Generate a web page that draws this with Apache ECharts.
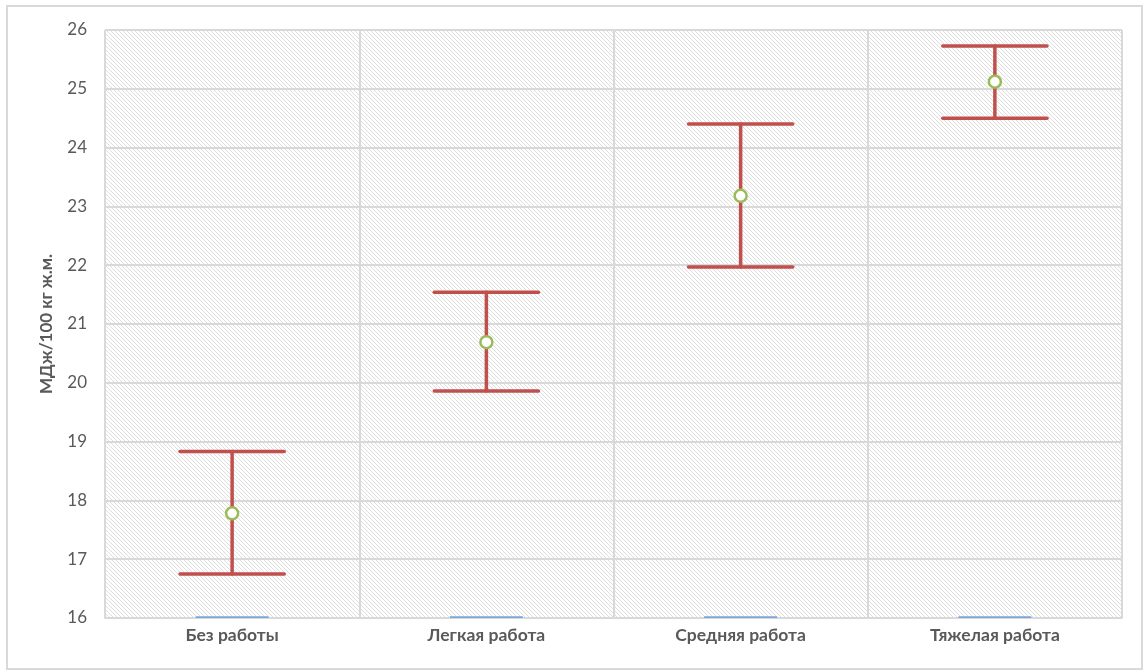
<!DOCTYPE html>
<html>
<head>
<meta charset="utf-8">
<script src="https://cdn.jsdelivr.net/npm/echarts@6/dist/echarts.min.js"></script>
<style>
    body { margin: 0; background: #fff; }
    #chart { width: 1145px; height: 672px; }
</style>
</head>
<body>
<div id="chart"></div>
<script>
var categories = ['Без работы', 'Легкая работа', 'Средняя работа', 'Тяжелая работа'];
var meanValues = [17.78, 20.69, 23.18, 25.12];
var lowValues = [16.75, 19.86, 21.97, 24.50];
var highValues = [18.83, 21.54, 24.40, 25.73];
var baseValues = [16.03, 16.03, 16.03, 16.03];
var yTicks = [16, 17, 18, 19, 20, 21, 22, 23, 24, 25, 26];

// diagonal hatch for the plot background
function makeHatch() {
    var c = document.createElement('canvas');
    c.width = 4;
    c.height = 4;
    var ctx = c.getContext('2d');
    ctx.fillStyle = '#ffffff';
    ctx.fillRect(0, 0, 4, 4);
    ctx.fillStyle = '#dedede';
    for (var i = 0; i < 4; i++) {
        ctx.fillRect(i, i, 1, 1);
    }
    return c;
}

function drawChart() {
    var chartDom = document.getElementById('chart');
    var myChart = echarts.init(chartDom);
    var errData = [];
    var key;
    for (key = 0; key < categories.length; key++) {
        errData.push([key, lowValues[key], highValues[key]]);
    }
    var option = {
        animation: false,
        graphic: [
            {
                type: 'rect',
                shape: { x: 7, y: 6, width: 1135, height: 663 },
                style: { fill: 'none', stroke: '#d9d9d9', lineWidth: 2 },
                silent: true
            }
        ],
        grid: {
            left: 105,
            right: 23,
            top: 30,
            bottom: 54,
            show: true,
            borderWidth: 0,
            backgroundColor: { image: makeHatch(), repeat: 'repeat' }
        },
        xAxis: {
            type: 'category',
            data: categories,
            boundaryGap: true,
            axisLine: { show: true, lineStyle: { color: '#d9d9d9', width: 2 } },
            axisTick: { show: false },
            splitLine: { show: true, lineStyle: { color: '#d9d9d9', width: 2 } },
            axisLabel: {
                color: '#595959',
                fontSize: 17.5,
                fontWeight: 'bold',
                fontFamily: 'Lato',
                margin: 8
            }
        },
        yAxis: {
            type: 'value',
            min: yTicks[0],
            max: yTicks[yTicks.length - 1],
            interval: 1,
            name: 'МДж/100 кг ж.м.',
            nameLocation: 'middle',
            nameGap: 50,
            nameTextStyle: {
                color: '#595959',
                fontSize: 17,
                fontWeight: 'bold',
                fontFamily: 'Lato'
            },
            axisLine: { show: false },
            axisTick: { show: false },
            splitLine: { show: true, lineStyle: { color: '#d9d9d9', width: 2 } },
            axisLabel: {
                color: '#595959',
                fontSize: 17,
                fontFamily: 'Lato',
                margin: 18
            }
        },
        series: [
            {
                name: 'base',
                type: 'bar',
                data: baseValues,
                barWidth: 73,
                itemStyle: { color: '#7aa6dc' },
                silent: true
            },
            {
                name: 'range',
                type: 'custom',
                data: errData,
                z: 3,
                renderItem: function(params, api) {
                    var lo = api.coord([api.value(0), api.value(1)]);
                    var hi = api.coord([api.value(0), api.value(2)]);
                    var half = api.size([1, 0])[0] * 0.205;
                    var style = { stroke: '#c0504d', lineWidth: 3.5, lineCap: 'round' };
                    return {
                        type: 'group',
                        children: [
                            { type: 'line', shape: { x1: lo[0], y1: lo[1], x2: hi[0], y2: hi[1] }, style: style },
                            { type: 'line', shape: { x1: lo[0] - half, y1: lo[1], x2: lo[0] + half, y2: lo[1] }, style: style },
                            { type: 'line', shape: { x1: hi[0] - half, y1: hi[1], x2: hi[0] + half, y2: hi[1] }, style: style }
                        ]
                    };
                }
            },
            {
                name: 'mean',
                type: 'scatter',
                data: meanValues,
                z: 4,
                symbol: 'circle',
                symbolSize: 12,
                itemStyle: { color: '#ffffff', borderColor: '#9bbb59', borderWidth: 2.5, opacity: 1 }
            }
        ]
    };
    option && myChart.setOption(option);
}

drawChart();
</script>
</body>
</html>
